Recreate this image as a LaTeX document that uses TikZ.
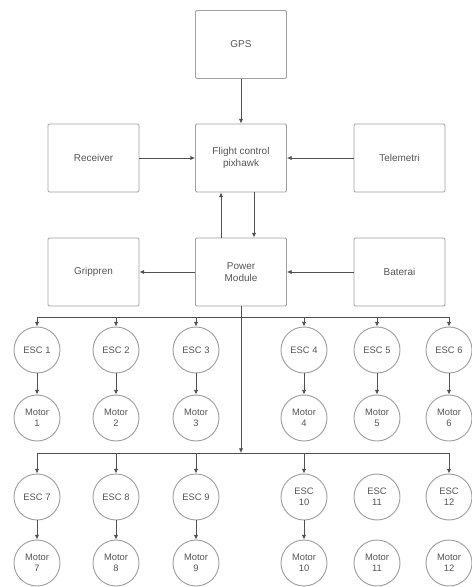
\documentclass[tikz,border=0pt]{standalone}
\usepackage{fontspec}
\setmainfont{Liberation Sans}
\usetikzlibrary{arrows.meta,calc}

\definecolor{garis}{HTML}{A0A0A0}
\definecolor{teks}{HTML}{555555}
\definecolor{panah}{HTML}{505050}

\tikzset{
  blok/.style={draw=garis,line width=0.8pt,rounded corners=1pt,minimum width=27.3mm,minimum height=20.4mm,
    text=teks,align=center,font=\fontsize{8.5}{10}\selectfont},
  bulat/.style={draw=garis,line width=0.8pt,circle,minimum size=13.8mm,inner sep=0pt,
    text=teks,align=center,font=\fontsize{8}{9.5}\selectfont},
  panahan/.style={draw=panah,line width=0.5pt,-{Latex[length=4pt,width=3.5pt]}},
  jalur/.style={draw=panah,line width=0.5pt}
}

\begin{document}
\begin{tikzpicture}[x=0.3mm,y=-0.3mm]

\useasboundingbox (0,0) rectangle (472,587);

% kotak utama
\node[blok] (gps) at (241,44.5) {GPS};
\node[blok] (fc) at (241,158) {Flight control\\pixhawk};
\node[blok] (rx) at (93.5,158) {Receiver};
\node[blok] (tele) at (399.5,158) {Telemetri};
\node[blok] (pm) at (241,272) {Power\\Module};
\node[blok] (grip) at (93.5,272) {Grippren};
\node[blok] (bat) at (399.5,272) {Baterai};

\draw[panahan] (gps) -- (fc);
\draw[panahan] (rx) -- (fc);
\draw[panahan] (tele) -- (fc);
\draw[panahan] ($(pm.north)+(-20,0)$) -- ($(fc.south)+(-20,0)$);
\draw[panahan] ($(fc.south)+(13,0)$) -- ($(pm.north)+(13,0)$);
\draw[panahan] (pm) -- (grip);
\draw[panahan] (bat) -- (pm);

% baris ESC 1-6
\node[bulat] (e1) at (37,350) {ESC 1};
\node[bulat] (e2) at (116,350) {ESC 2};
\node[bulat] (e3) at (196,350) {ESC 3};
\node[bulat] (e4) at (304,350) {ESC 4};
\node[bulat] (e5) at (377,350) {ESC 5};
\node[bulat] (e6) at (449,350) {ESC 6};

\node[bulat] (m1) at (37,418) {Motor\\1};
\node[bulat] (m2) at (116,418) {Motor\\2};
\node[bulat] (m3) at (196,418) {Motor\\3};
\node[bulat] (m4) at (304,418) {Motor\\4};
\node[bulat] (m5) at (377,418) {Motor\\5};
\node[bulat] (m6) at (449,418) {Motor\\6};

% baris ESC 7-12
\node[bulat] (e7) at (37,497) {ESC 7};
\node[bulat] (e8) at (116,497) {ESC 8};
\node[bulat] (e9) at (196,497) {ESC 9};
\node[bulat] (e10) at (304,497) {ESC\\10};
\node[bulat] (e11) at (377,497) {ESC\\11};
\node[bulat] (e12) at (449,497) {ESC\\12};

\node[bulat] (m7) at (37,563) {Motor\\7};
\node[bulat] (m8) at (116,563) {Motor\\8};
\node[bulat] (m9) at (196,563) {Motor\\9};
\node[bulat] (m10) at (304,563) {Motor\\10};
\node[bulat] (m11) at (377,563) {Motor\\11};
\node[bulat] (m12) at (449,563) {Motor\\12};

% jalur daya
\coordinate (b1) at (241,317);
\coordinate (b2) at (241,453);

\draw[panahan] (pm.south) -- (b2);
\draw[jalur] (b1 -| e1) -- (b1 -| e6);
\draw[jalur] (b2 -| e7) -- (b2 -| e12);

\draw[panahan] (b1 -| e1) -- (e1);
\draw[panahan] (b1 -| e2) -- (e2);
\draw[panahan] (b1 -| e3) -- (e3);
\draw[panahan] (b1 -| e4) -- (e4);
\draw[panahan] (b1 -| e5) -- (e5);
\draw[panahan] (b1 -| e6) -- (e6);

\draw[panahan] (b2 -| e7) -- (e7);
\draw[panahan] (b2 -| e8) -- (e8);
\draw[panahan] (b2 -| e9) -- (e9);
\draw[panahan] (b2 -| e10) -- (e10);
\draw[panahan] (b2 -| e12) -- (e12);

\draw[panahan] (e1) -- (m1);
\draw[panahan] (e2) -- (m2);
\draw[panahan] (e3) -- (m3);
\draw[panahan] (e4) -- (m4);
\draw[panahan] (e5) -- (m5);
\draw[panahan] (e6) -- (m6);

\draw[panahan] (e7) -- (m7);
\draw[panahan] (e8) -- (m8);
\draw[panahan] (e9) -- (m9);
\draw[panahan] (e10) -- (m10);

\end{tikzpicture}
\end{document}
